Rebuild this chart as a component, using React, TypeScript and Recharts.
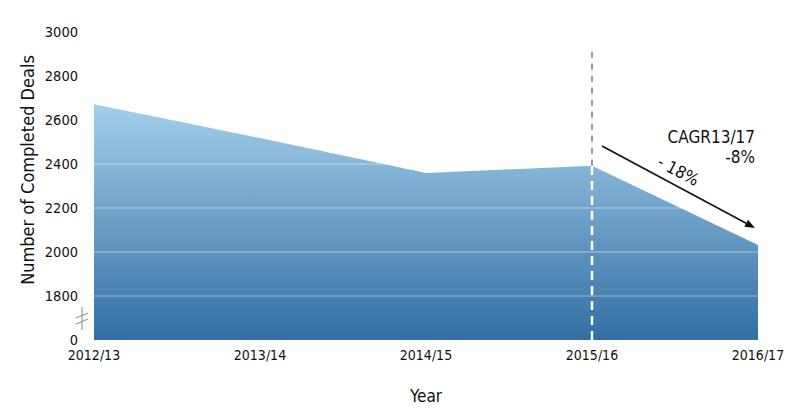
import { AreaChart, Area, XAxis, YAxis, ReferenceLine } from "recharts";

const years = ["2012/13", "2013/14", "2014/15", "2015/16", "2016/17"];
const deals = [2672, 2518, 2359, 2392, 2032];
const yTicks = [1600, 1800, 2000, 2200, 2400, 2600, 2800, 3000];
const gridValues = [1800, 2000, 2200, 2400];
const splitYear = "2015/16";
const splitTop = 2910;
const arrowFrom = 2482;
const arrowTo = 2109;
const cagrTitle = "CAGR13/17";
const cagrValue = "-8%";
const dropLabel = "- 18%";

const data = years.map((year, i) => ({ year, deals: deals[i] }));

const FONT = '"DejaVu Sans Condensed", "DejaVu Sans", sans-serif';

function YTick(props: any) {
  const { x, y, payload } = props;
  const label = payload.value === 1600 ? "0" : String(payload.value);
  return (
    <g>
      <text x={x} y={y} dy={5} textAnchor="end" fontSize={14.5} fill="#111" fontFamily={FONT}>
        {label}
      </text>
      {payload.value === 1600 && (
        <g stroke="#999" strokeWidth={1.2}>
          <line x1={x + 4} y1={y - 33} x2={x + 4} y2={y - 10} />
          <line x1={x - 2} y1={y - 22} x2={x + 10} y2={y - 27} />
          <line x1={x - 2} y1={y - 16} x2={x + 10} y2={y - 21} />
        </g>
      )}
    </g>
  );
}

function XTick(props: any) {
  const { x, y, payload } = props;
  return (
    <text x={x} y={y} dy={12} textAnchor="middle" fontSize={14} fill="#111" fontFamily={FONT}>
      {payload.value}
    </text>
  );
}

function ArrowShape(props: any) {
  const { x1, y1, x2, y2 } = props;
  const sx = x1 + (x2 - x1) * 0.06;
  const sy = y1;
  const ex = x2 - 3;
  const ey = y2;
  const ang = Math.atan2(ey - sy, ex - sx);
  const deg = (ang * 180) / Math.PI;
  const head = 10;
  const hw = 4;
  const bx = ex - head * Math.cos(ang);
  const by = ey - head * Math.sin(ang);
  const px = -Math.sin(ang) * hw;
  const py = Math.cos(ang) * hw;
  const mx = (sx + ex) / 2 - 3;
  const my = (sy + ey) / 2 - 11;
  return (
    <g>
      <line x1={sx} y1={sy} x2={bx} y2={by} stroke="#111" strokeWidth={1.6} />
      <polygon points={`${ex},${ey} ${bx + px},${by + py} ${bx - px},${by - py}`} fill="#111" />
      <text
        x={mx}
        y={my}
        transform={`rotate(${deg} ${mx} ${my})`}
        textAnchor="middle"
        fontSize={17}
        fill="#111"
        fontFamily={FONT}
      >
        {dropLabel}
      </text>
      <text x={ex} y={ey - 85} textAnchor="end" fontSize={17} fill="#111" fontFamily={FONT}>
        {cagrTitle}
      </text>
      <text x={ex} y={ey - 65} textAnchor="end" fontSize={17} fill="#111" fontFamily={FONT}>
        {cagrValue}
      </text>
    </g>
  );
}

export default function App() {
  return (
    <div style={{ position: "absolute", left: 0, top: 0, background: "#fff" }}>
      <AreaChart width={800} height={417} data={data} margin={{ top: 32, right: 42, bottom: 17, left: 0 }}>
        <defs>
          <linearGradient id="dealsFill" x1="0" y1="0" x2="0" y2="1">
            <stop offset="0%" stopColor="#a3cfeb" />
            <stop offset="100%" stopColor="#336ea3" />
          </linearGradient>
        </defs>
        <XAxis
          dataKey="year"
          axisLine={false}
          tickLine={false}
          tick={<XTick />}
          height={60}
          interval={0}
          label={{
            content: ({ viewBox }: any) => (
              <text
                x={viewBox.x + viewBox.width / 2}
                y={viewBox.y + 62}
                textAnchor="middle"
                fontSize={17}
                fill="#111"
                fontFamily={FONT}
              >
                Year
              </text>
            ),
          }}
        />
        <YAxis
          type="number"
          domain={[1600, 3000]}
          ticks={yTicks}
          axisLine={false}
          tickLine={false}
          tickSize={0}
          tickMargin={16}
          width={94}
          tick={<YTick />}
          label={{
            content: ({ viewBox }: any) => {
              const cx = 29;
              const cy = viewBox.y + viewBox.height / 2 - 16;
              return (
                <text
                  x={cx}
                  y={cy}
                  transform={`rotate(-90 ${cx} ${cy})`}
                  textAnchor="middle"
                  dominantBaseline="middle"
                  fontSize={18}
                  fill="#111"
                  fontFamily={FONT}
                >
                  Number of Completed Deals
                </text>
              );
            },
          }}
        />
        <Area
          type="linear"
          dataKey="deals"
          stroke="none"
          fill="url(#dealsFill)"
          fillOpacity={1}
          isAnimationActive={false}
        />
        {gridValues.map((v) => (
          <ReferenceLine key={v} y={v} stroke="#ffffff" strokeOpacity={0.45} strokeWidth={1} />
        ))}
        <ReferenceLine
          segment={[
            { x: splitYear, y: deals[3] },
            { x: splitYear, y: splitTop },
          ]}
          stroke="#9a9a9a"
          strokeWidth={2}
          strokeDasharray="6 6"
        />
        <ReferenceLine
          segment={[
            { x: splitYear, y: 1600 },
            { x: splitYear, y: deals[3] },
          ]}
          stroke="#ffffff"
          strokeWidth={2.5}
          strokeDasharray="9 6"
        />
        <ReferenceLine
          segment={[
            { x: splitYear, y: arrowFrom },
            { x: years[4], y: arrowTo },
          ]}
          stroke="#111"
          shape={<ArrowShape />}
        />
      </AreaChart>
    </div>
  );
}
